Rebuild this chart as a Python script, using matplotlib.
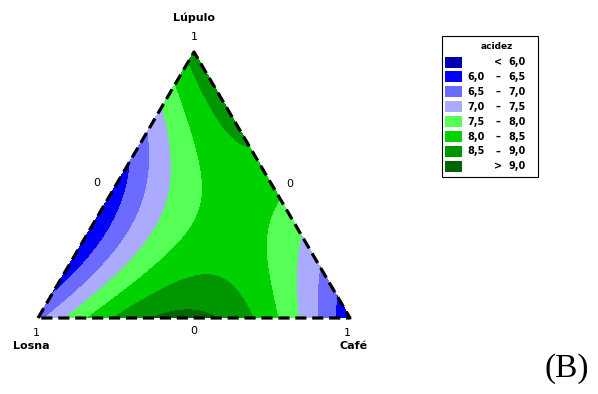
import numpy as np
import matplotlib
matplotlib.use('Agg')
import matplotlib.pyplot as plt
import matplotlib.tri as mtri
from matplotlib.patches import Rectangle

# Mixture model for acidez (Scheffe quartic), components in order:
# Losna, Lupulo, Cafe
linear = [6.840, 8.712, 6.093]          # x1, x2, x3
quadratic = [-6.238, 10.666, 3.003]     # x1x2, x1x3, x2x3
cubic = [-1.141, 0.253, 0.577]          # xixj(xi-xj)
quartic = [1.252, -2.650, -0.231]       # xixj(xi-xj)^2
ternary = [-5.027, -2.881, 8.204]       # x1^2x2x3, x1x2^2x3, x1x2x3^2

components = ['Losna', 'Lúpulo', 'Café']
levels_in = [6.0, 6.5, 7.0, 7.5, 8.0, 8.5, 9.0]
colors = ['#0000B0', '#0000FF', '#6B6BFF', '#AAAAFF', '#55FF55', '#00D200', '#009600', '#006400']
labels = [('', '<', '6,0'), ('6,0', '\u2013', '6,5'), ('6,5', '\u2013', '7,0'), ('7,0', '\u2013', '7,5'),
          ('7,5', '\u2013', '8,0'), ('8,0', '\u2013', '8,5'), ('8,5', '\u2013', '9,0'), ('', '>', '9,0')]


def acidez(x1, x2, x3):
    pairs = [(x1, x2), (x1, x3), (x2, x3)]
    z = linear[0] * x1 + linear[1] * x2 + linear[2] * x3
    for k, (p, q) in enumerate(pairs):
        z += quadratic[k] * p * q
        z += cubic[k] * p * q * (p - q)
        z += quartic[k] * p * q * (p - q) ** 2
    z += ternary[0] * x1 * x1 * x2 * x3
    z += ternary[1] * x1 * x2 * x2 * x3
    z += ternary[2] * x1 * x2 * x3 * x3
    return z


# Simplex grid
n = 200
i, j = np.meshgrid(np.arange(n + 1), np.arange(n + 1))
keep = i + j <= n
g2 = i[keep] / n
g3 = j[keep] / n
g1 = 1 - g2 - g3
z = acidez(g1, g2, g3)
X = g3 + 0.5 * g2
Y = g2

levels = [min(z.min(), 5.0) - 1] + levels_in + [max(z.max(), 10.0) + 1]

W, H = 598, 394
fig = plt.figure(figsize=(W / 100, H / 100), dpi=100)
ax = fig.add_axes([38 / W, (H - 318) / H, 312 / W, 266 / H])
ax.tricontourf(mtri.Triangulation(X, Y), z, levels=levels, colors=colors)
ax.plot([0, 0.5, 1, 0], [0, 1, 0, 0], color='black', lw=2.3,
        linestyle=(0, (3.5, 1.8)), clip_on=False)
ax.set_xlim(0, 1)
ax.set_ylim(0, 1)
ax.axis('off')

# Vertex names and 0/1 marks
ax.text(0.5, 1.13, components[1], ha='center', va='center', fontsize=8, fontweight='bold')
ax.text(0.5, 1.055, '1', ha='center', va='center', fontsize=8)
ax.text(-0.005, -0.055, '1', ha='center', va='center', fontsize=8)
ax.text(-0.02, -0.105, components[0], ha='center', va='center', fontsize=8, fontweight='bold')
ax.text(0.99, -0.055, '1', ha='center', va='center', fontsize=8)
ax.text(1.01, -0.105, components[2], ha='center', va='center', fontsize=8, fontweight='bold')
ax.text(0.5, -0.05, '0', ha='center', va='center', fontsize=8)
ax.text(0.189, 0.508, '0', ha='center', va='center', fontsize=8)
ax.text(0.808, 0.504, '0', ha='center', va='center', fontsize=8)

# Legend box
lg = fig.add_axes([0, 0, 1, 1])
lg.set_xlim(0, W)
lg.set_ylim(H, 0)
lg.axis('off')
lg.add_patch(Rectangle((442, 36), 96, 141, fill=False, edgecolor='black', lw=0.8))
lg.text(497, 46, 'acidez', ha='center', va='center', fontsize=6.5, fontweight='bold')
for k, (col, (lo, sym, hi)) in enumerate(zip(colors, labels)):
    yy = 62 + k * 14.9
    lg.add_patch(Rectangle((445, yy - 5.5), 17, 11, facecolor=col, edgecolor='none'))
    lg.text(467, yy, lo, ha='left', va='center', fontsize=7, fontweight='bold')
    lg.text(498, yy, sym, ha='center', va='center', fontsize=7, fontweight='bold')
    lg.text(526, yy, hi, ha='right', va='center', fontsize=7, fontweight='bold')

fig.text(567 / W, 1 - 369 / H, '(B)', ha='center', va='center', fontsize=24, family='Liberation Serif')

fig.savefig('out.png', dpi=100)
